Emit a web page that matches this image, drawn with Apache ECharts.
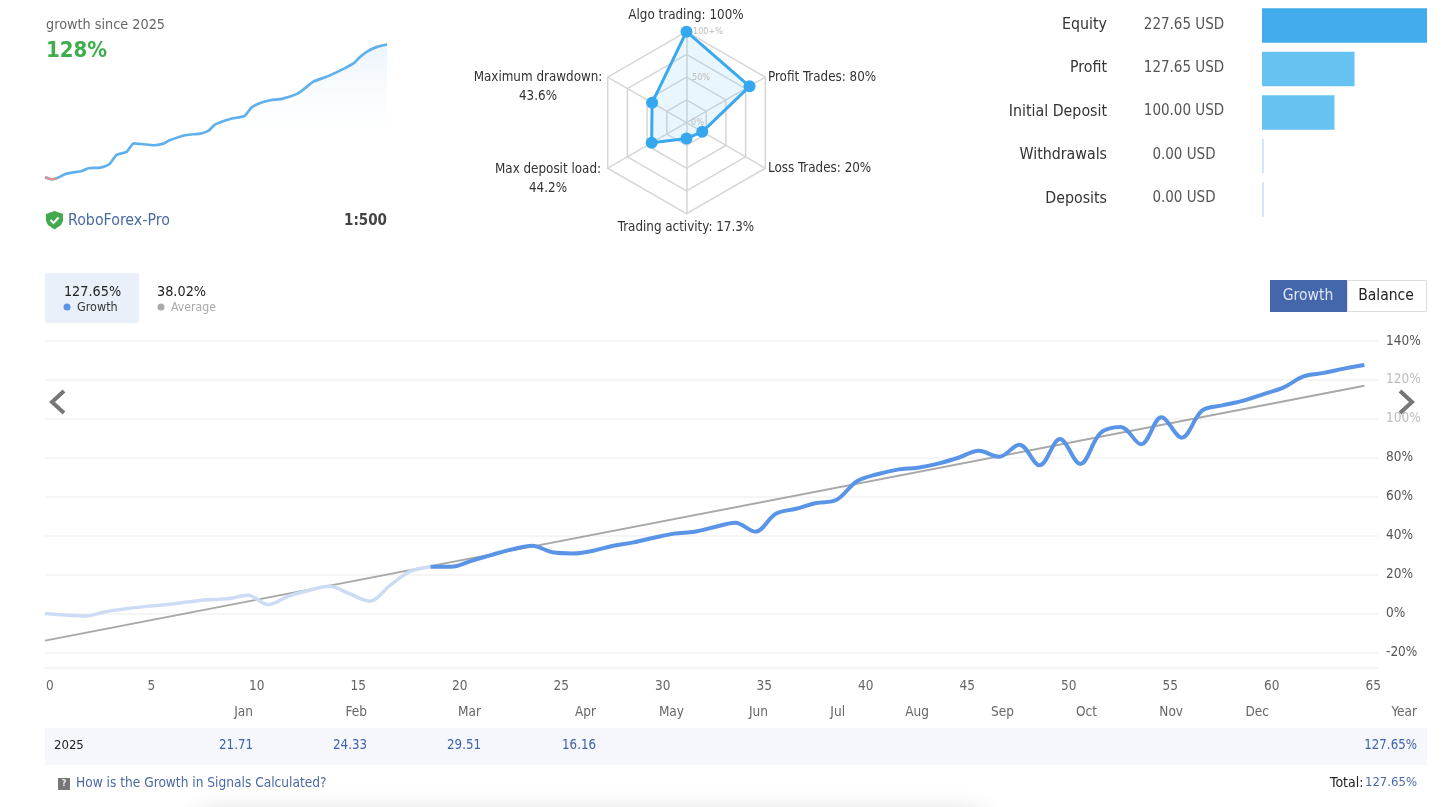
<!DOCTYPE html>
<html>
<head>
<meta charset="utf-8">
<title>Signal growth</title>
<style>html,body{margin:0;padding:0;background:#fff}#chart{width:1445px;height:807px}</style>
<script src="https://cdn.jsdelivr.net/npm/echarts@6/dist/echarts.min.js"></script>
</head>
<body>
<div id="chart"></div>
<script>
// Weekly growth curve, percent, one value per trading week
const growthValues = [0,-0.8,-1.4,0.9,2.4,3.6,4.6,5.8,7,7.5,9.3,4.5,8.9,11.8,13.9,10.1,6.3,14.4,21.6,24,
  24,27,30.1,32.9,34.8,31.4,30.8,32.2,34.8,36.5,38.9,41,42,44.4,46.6,42,51.2,53.8,56.7,58.4,
  67.9,71.5,73.9,74.9,77,80,83.6,80.5,86.7,76.1,89.6,76.8,92.7,95.8,86.9,100.8,90.3,104.2,106.9,109.2,
  112.6,116,121.8,123.6,125.8,127.65];
const trendX = [0,65];
const trendValues = [-14,117];
const firstFullWeek = 19;

// Compact equity curve in the summary card
const sparkX = [0,1.3,2.2,4.1,7,8.2,10.5,12.2,13.6,15.5,16.9,18.7,20.6,22.5,23.8,26.9,29.5,31.1,32.3,35.2,37.9,39.3,40.9,42.8,45,47.9,49.5,51,53.9,57.1,58.7,59.6,61.2,63.1,65];
const sparkValues = [0,-1.9,-1,3.5,6.1,8.7,9.3,12.5,21.5,24.4,32.7,31.8,30.8,32.4,35.9,40.7,42,44.9,50.7,56.1,59,67.4,71.5,74.1,75.4,80.2,86,92,97.5,105.2,109.7,114.5,120.9,125.4,127.65];

// Risk profile radar, spokes run counter-clockwise from the top
const radarNames = ['Algo trading','Maximum drawdown','Max deposit load','Trading activity','Loss Trades','Profit Trades'];
const radarValues = [100,43.6,44.2,17.3,20,80];

// Account summary bars
const accountNames = ['Equity','Profit','Initial Deposit','Withdrawals','Deposits'];
const accountValues = [227.65,127.65,100,0,0];

// Year table
const monthNames = ['Jan','Feb','Mar','Apr','May','Jun','Jul','Aug','Sep','Oct','Nov','Dec','Year'];
const monthResults = ['21.71','24.33','29.51','16.16','','','','','','','','','127.65%'];
const yearLabel = '2025';

const FONT = '"DejaVu Sans Condensed","DejaVu Sans",sans-serif';
const points = (xs, ys) => xs.map((x, i) => [x, ys[i]]);
const weekly = growthValues.map((v, i) => [i, v]);

// Text element helper for the page furniture around the plots
function label(text, x, y, size, fill, align, weight) {
  return { type: 'text', x, y: y + 1, z: 10, silent: true, style: {
    text, x: 0, y: 0, fill, font: (weight || 'normal') + ' ' + size + 'px ' + FONT,
    align: align || 'left', verticalAlign: 'middle', lineHeight: 19 } };
}
function chevron(pts) {
  return { type: 'polyline', z: 12, silent: true, shape: { points: pts },
    style: { stroke: '#777', lineWidth: 4, fill: null, lineJoin: 'miter' } };
}

const monthRight = [253,367,481,596,684,768,845,929,1014,1097,1183,1269,1417];
const accountRowY = [24,67,111,154,198];
const accountValueY = [24,67,110,154,197];
const radarLabelSpots = [
  {t:`${radarNames[0]}: ${radarValues[0]}%`, x:686, y:15, a:'center'},
  {t:`${radarNames[5]}: ${radarValues[5]}%`, x:768, y:77, a:'left'},
  {t:`${radarNames[4]}: ${radarValues[4]}%`, x:768, y:168, a:'left'},
  {t:`${radarNames[3]}: ${radarValues[3]}%`, x:686, y:227, a:'center'},
  {t:`${radarNames[2]}:\n${radarValues[2]}%`, x:548, y:178, a:'center'},
  {t:`${radarNames[1]}:\n${radarValues[1]}%`, x:538, y:86, a:'center'}
];

const graphics = [
  // bottom edge shadow
  { type:'rect', z:0, silent:true, shape:{x:200,y:815,width:780,height:30}, style:{fill:'#fff',shadowBlur:26,shadowColor:'rgba(0,0,0,0.22)'} },
  label('growth since 2025',46,24.5,14.3,'#666'),
  label('128%',46,50,22,'#3dae4a','left','bold'),
  { type:'polygon', z:10, silent:true, shape:{ points:[[46,214],[54.5,211],[63,214],[63,221],[61,225],[54.5,229.5],[48,225],[46,221]] }, style:{fill:'#43a84e'} },
  { type:'polyline', z:11, silent:true, shape:{points:[[50.5,220],[53.5,223],[58.5,217.5]]}, style:{stroke:'#fff',lineWidth:2,fill:null} },
  label('RoboForex-Pro',68,219.5,15.8,'#4a68a2'),
  label('1:500',387,220,15,'#444','right','bold'),
  { type:'rect', z:1, silent:true, shape:{x:45,y:273,width:94,height:50,r:2}, style:{fill:'#e9f0f9'} },
  label('127.65%',92.5,291,14.3,'#222','center'),
  { type:'circle', z:10, silent:true, shape:{cx:67,cy:307,r:3.5}, style:{fill:'#5a94e6'} },
  label('Growth',77,306.5,12.5,'#333'),
  label('38.02%',157,291,14.3,'#222'),
  { type:'circle', z:10, silent:true, shape:{cx:161,cy:307,r:3.5}, style:{fill:'#aaa'} },
  label('Average',171,306.5,12.2,'#aaa'),
  { type:'rect', z:1, silent:true, shape:{x:1270,y:280,width:77,height:32}, style:{fill:'#4467ab'} },
  { type:'rect', z:1, silent:true, shape:{x:1347.5,y:280.5,width:79,height:31}, style:{fill:'#fff',stroke:'#ddd',lineWidth:1} },
  label('Growth',1308,294.5,15.5,'#dfe6f3','center'),
  label('Balance',1386,294.5,15.5,'#222','center'),
  chevron([[64,391],[52,402],[64,413]]),
  chevron([[1400,391],[1412,402],[1400,413]]),
  { type:'rect', z:0, silent:true, shape:{x:45,y:728,width:1382,height:37}, style:{fill:'#f5f7fc'} },
  label(yearLabel,54,745,13,'#222'),
  { type:'rect', z:10, silent:true, shape:{x:58,y:778,width:12,height:12}, style:{fill:'#777'} },
  label('?',64,783,9,'#eee','center','bold'),
  label('How is the Growth in Signals Calculated?',76,782,13.6,'#4a69a5'),
  label('Total:',1363.5,782,14,'#222','right'),
  label('127.65%',1417,782,13,'#4a69a5','right'),
  label('100+%',693,31,9,'#bbb'),
  label('50%',692,77,9,'#bbb'),
  label('0%',691,122,9,'#bbb'),
  ...radarLabelSpots.map(s => label(s.t,s.x,s.y,13.3,'#333',s.a)),
  ...accountNames.map((n,i) => label(n,1107,accountRowY[i],15.8,'#333','right')),
  ...accountValues.map((v,i) => label(v.toFixed(2)+' USD',1184,accountValueY[i],15,'#555','center')),
  ...monthNames.map((m,i) => label(m,monthRight[i],711,13.5,'#666','right')),
  ...monthResults.map((r,i) => label(r,monthRight[i],745,13.2,'#3f63a8','right'))
];

const barColors = ['#43acec','#66c3f1','#66c3f1','#cfe7fb','#cfe7fb'];

const chart = echarts.init(document.getElementById('chart'), null, { renderer: 'canvas' });
chart.setOption({
  animation: false,
  backgroundColor: '#fff',
  textStyle: { fontFamily: FONT },
  graphic: graphics,
  grid: [
    { left: 45, top: 42.1, width: 342, height: 145.6 },
    { left: 1262, top: 3.75, width: 165, height: 217.5 },
    { left: 45, top: 341, right: 67, height: 311.3 }
  ],
  radar: {
    center: [686.5, 122.7], radius: 91, startAngle: 90, splitNumber: 4,
    shape: 'polygon',
    axisName: { show: false },
    indicator: radarNames.map(name => ({ name, min: 0, max: 100 })),
    axisLine: { lineStyle: { color: '#d6d6d6', width: 1.5 } },
    splitLine: { lineStyle: { color: '#d6d6d6', width: 1.5 } },
    splitArea: { show: false },
    axisTick: { show: false },
    axisLabel: { show: false }
  },
  xAxis: [
    { gridIndex: 0, type: 'value', min: 0, max: 65, show: false, splitLine: { show: false } },
    { gridIndex: 1, type: 'value', min: 0, max: 227.65, show: false, splitLine: { show: false } },
    { gridIndex: 2, type: 'value', min: 0, max: 65.67, interval: 5, offset: 15.7,
      axisLine: { show: true, onZero: false, lineStyle: { color: '#f2f2f2', width: 1.5 } },
      axisTick: { show: false }, splitLine: { show: false },
      axisLabel: { showMaxLabel: false, color: '#666', fontSize: 13.5, margin: 11, align: 'left', padding: [0,0,0,1], fontFamily: FONT } }
  ],
  yAxis: [
    { gridIndex: 0, type: 'value', min: -10, max: 130, show: false, splitLine: { show: false } },
    { gridIndex: 1, type: 'category', inverse: true, data: accountNames, show: false },
    { gridIndex: 2, type: 'value', position: 'right', min: -20, max: 140, interval: 20,
      axisLine: { show: false }, axisTick: { show: false },
      splitLine: { lineStyle: { color: '#f2f2f2', width: 1.5 } },
      axisLabel: { margin: 8, fontSize: 13.5, fontFamily: FONT, formatter: '{value}%',
        color: v => { const n = Number(String(v).replace('%', '')); return (n === 120 || n === 100) ? '#bdbdbd' : '#555'; } } }
  ],
  series: [
    { type: 'line', name: 'Equity curve', xAxisIndex: 0, yAxisIndex: 0, data: points(sparkX, sparkValues),
      smooth: 0.2, symbol: 'none', lineStyle: { color: '#5fb0ec', width: 2.7 },
      areaStyle: { color: new echarts.graphic.LinearGradient(0, 44, 0, 150, [
        { offset: 0, color: '#e3effb' }, { offset: 1, color: 'rgba(255,255,255,0)' } ], true) } },
    { type: 'line', name: 'Drawdown', xAxisIndex: 0, yAxisIndex: 0, data: points(sparkX, sparkValues).slice(0, 3),
      smooth: 0.2, symbol: 'none', lineStyle: { color: '#ee8c86', width: 2 } },
    { type: 'radar', symbol: 'circle', symbolSize: 12, z: 3,
      data: [{ value: radarValues, name: 'Risk profile' }],
      itemStyle: { color: '#35a7ee' },
      lineStyle: { color: '#35a7ee', width: 3 },
      areaStyle: { color: 'rgba(110,195,245,0.22)' } },
    { type: 'bar', name: 'Account', xAxisIndex: 1, yAxisIndex: 1, barWidth: 34.5, barMinHeight: 2,
      data: accountValues.map((value, i) => ({ value, itemStyle: { color: barColors[i] } })) },
    { type: 'line', name: 'Average', xAxisIndex: 2, yAxisIndex: 2, data: points(trendX, trendValues),
      symbol: 'none', lineStyle: { color: '#a8a8a8', width: 2 }, z: 2 },
    { type: 'line', name: 'Growth (early)', xAxisIndex: 2, yAxisIndex: 2, data: weekly.slice(0, firstFullWeek + 1),
      smooth: 0.35, symbol: 'none', lineStyle: { color: '#cddcf5', width: 3.5 }, z: 3 },
    { type: 'line', name: 'Growth', xAxisIndex: 2, yAxisIndex: 2, data: weekly.slice(firstFullWeek),
      smooth: 0.35, symbol: 'none', lineStyle: { color: '#5a94e6', width: 4 }, z: 4 }
  ]
});
</script>
</body>
</html>
